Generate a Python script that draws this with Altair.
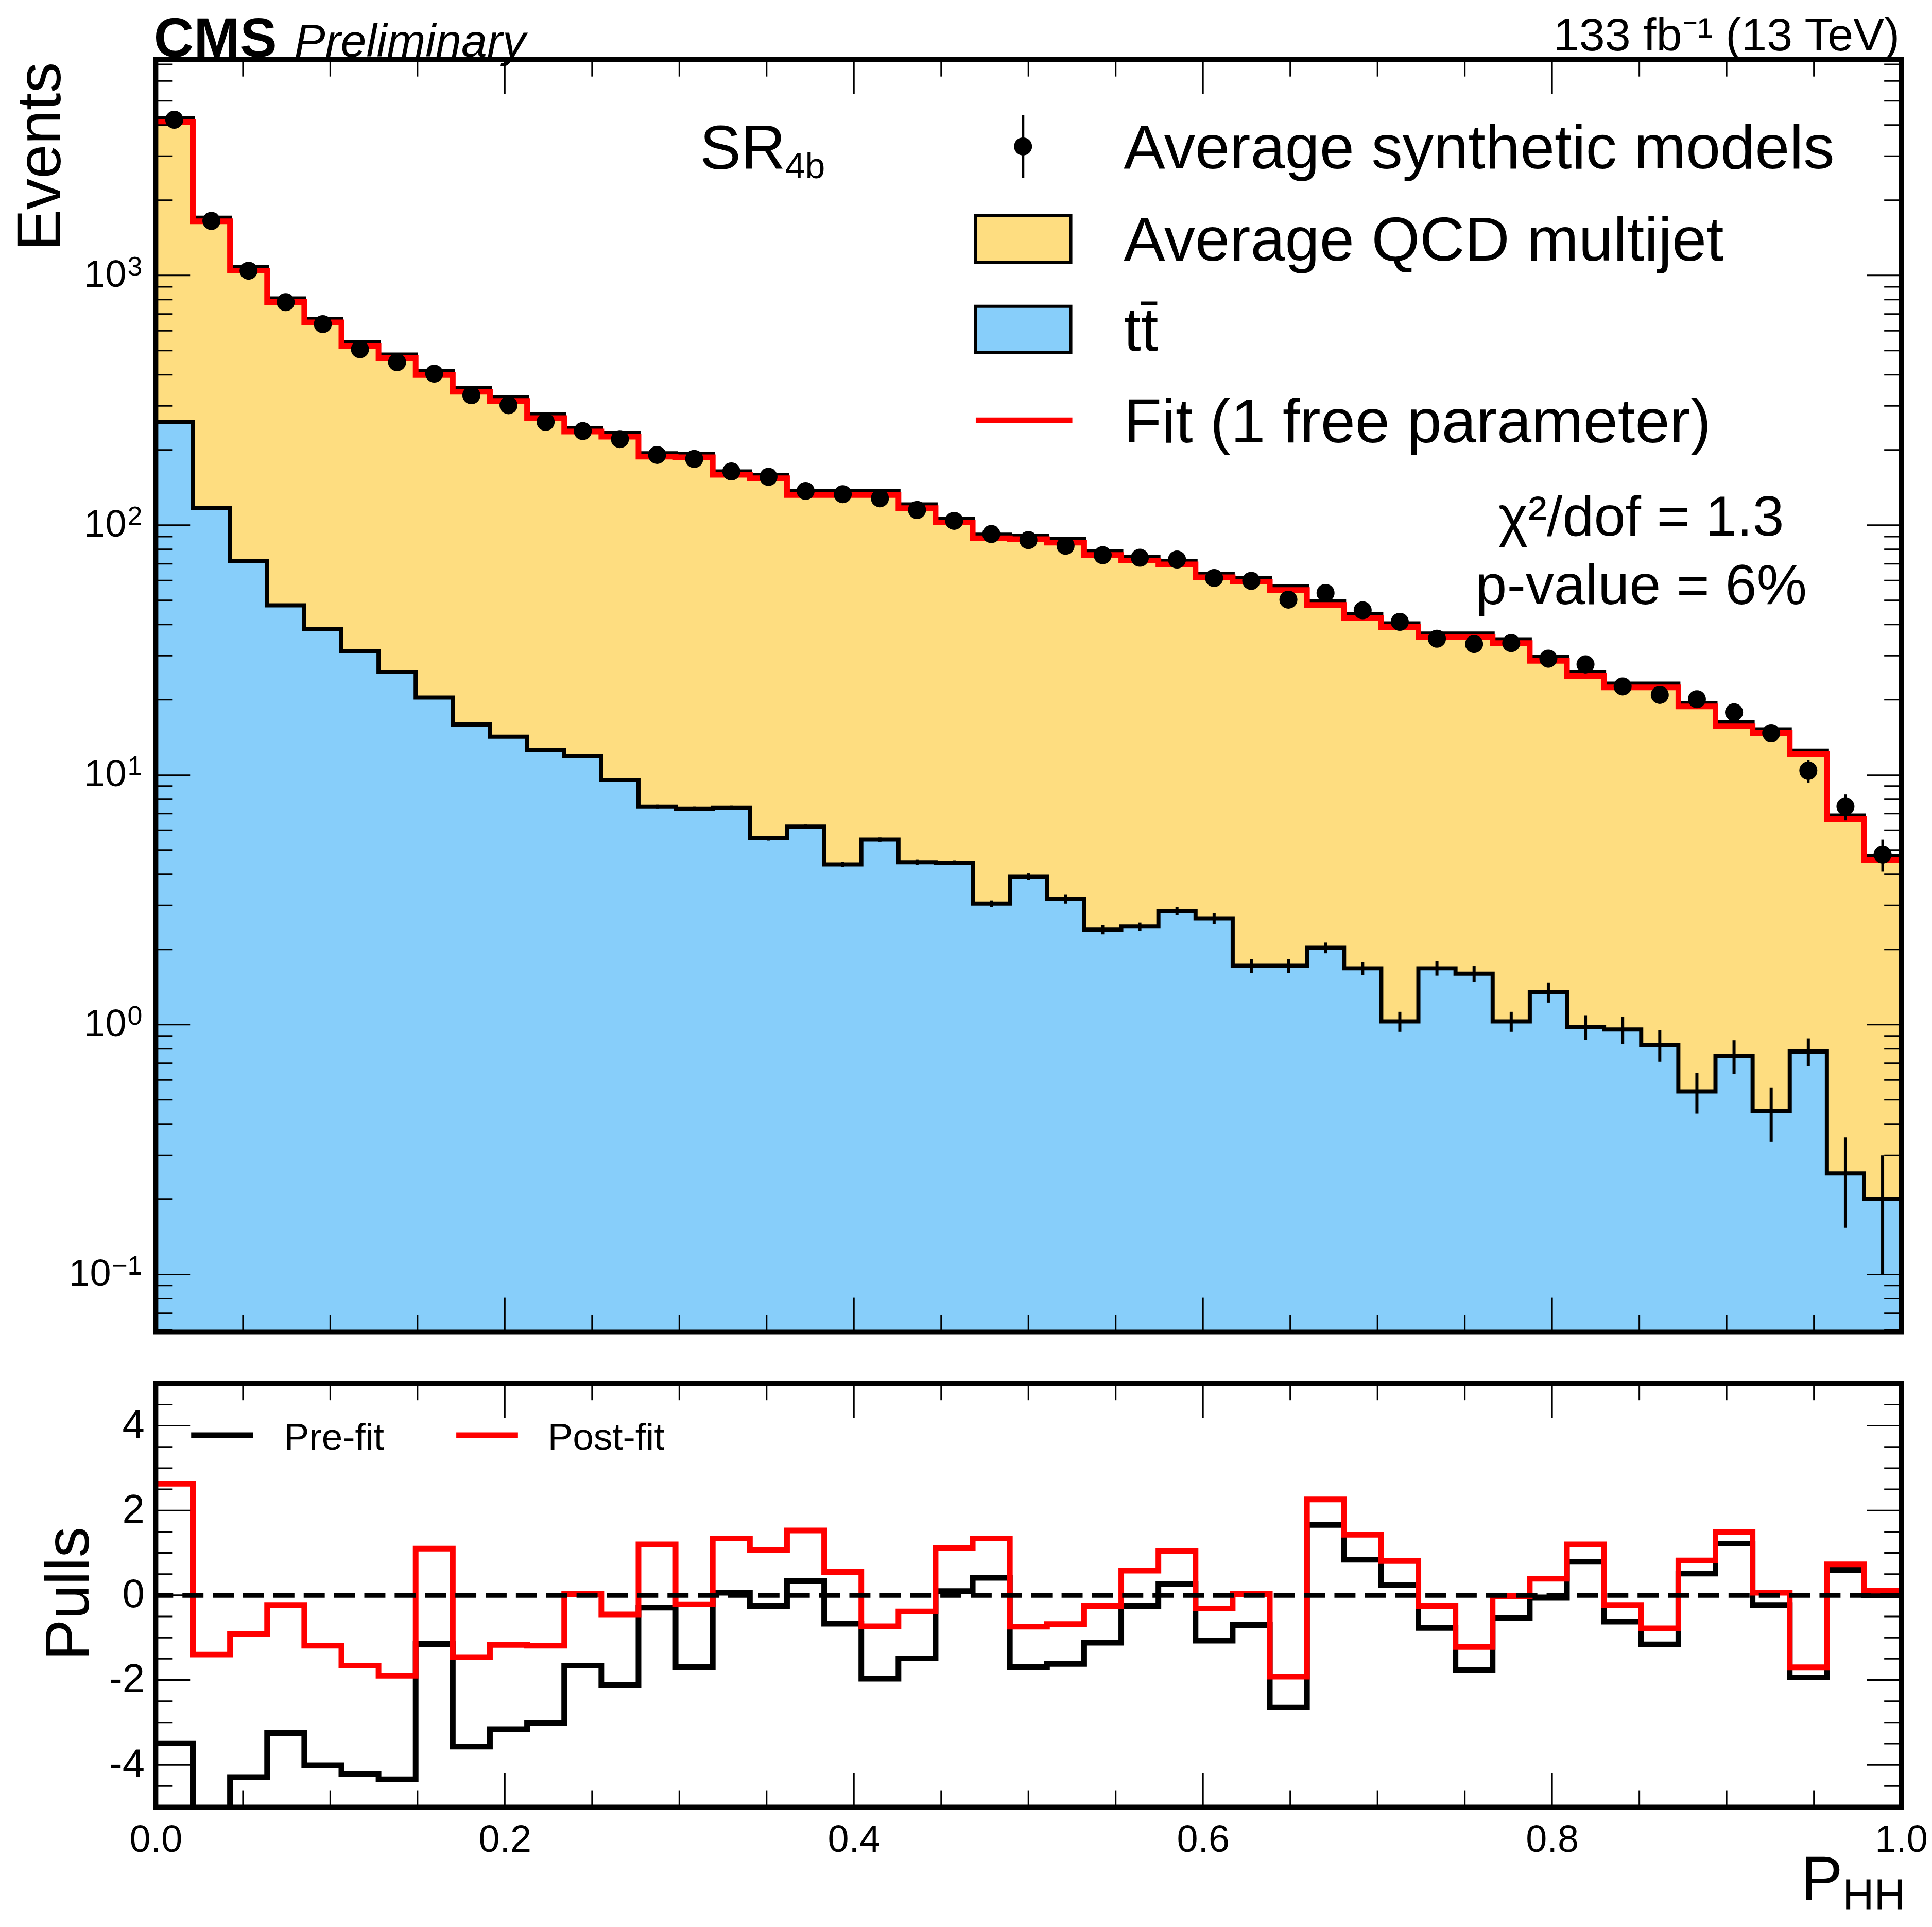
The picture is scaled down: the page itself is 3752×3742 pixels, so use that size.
import altair as alt
import pandas as pd

FONT = "Liberation Sans"
YELLOW = "#FEDD80"
BLUE = "#87CEFA"

# plot areas in px: upper = Events (log), lower = pulls
W = 3397
H_TOP = 2476
H_BOT = 825
MAJOR = 67
MINOR = 33
Y_MIN = 0.0588
Y_MAX = 7310

n_bins = 47
bin_edges = [i / n_bins for i in range(n_bins + 1)]
bin_centers = [(i + 0.5) / n_bins for i in range(n_bins)]

synthetic = [4200, 1652, 1044, 781, 638, 506, 449, 404, 331, 302, 259, 238, 221, 191, 184, 164,
             156, 137, 133, 128, 115, 104, 92.1, 87.1, 82.7, 75.8, 74.0, 72.8, 61.4, 59.8, 50.3,
             53.5, 45.6, 41.0, 35.1, 33.4, 33.7, 29.2, 27.7, 22.6, 20.9, 20.1, 17.8, 14.7, 10.4,
             7.47, 4.80]
synthetic_err = [40, 25, 18, 15, 13, 11, 10, 9.5, 8.5, 8.0, 7.5, 7.0, 6.8, 6.2, 6.0, 5.7, 5.5,
                 5.1, 5.0, 4.9, 4.6, 4.4, 4.1, 4.0, 3.9, 3.7, 3.6, 3.6, 3.3, 3.3, 3.0, 3.1, 2.9,
                 2.7, 2.5, 2.4, 2.4, 2.3, 2.2, 1.3, 1.2, 1.2, 1.1, 1.0, 1.1, 0.9, 0.7]
qcd_plus_tt = [4260, 1702, 1081, 809, 670, 539, 482, 413, 354, 325, 277, 245, 234, 194, 193, 164,
               159, 137, 137, 137, 121, 106, 91.6, 90.8, 88.0, 78.5, 74.6, 72.0, 63.9, 61.4, 56.9,
               49.5, 44.0, 40.4, 36.8, 36.8, 34.9, 29.6, 25.8, 23.2, 23.2, 19.4, 16.2, 15.2, 12.5,
               6.88, 4.73]
fit_total = [4119, 1646, 1045, 782, 648, 521, 466, 399, 342, 314, 268, 237, 226, 188, 187, 159,
             154, 132, 132, 132, 117, 102.5, 88.6, 87.8, 85.1, 75.9, 72.1, 69.6, 61.8, 59.4, 55.0,
             47.9, 42.5, 39.1, 35.6, 35.6, 33.7, 28.6, 24.9, 22.4, 22.4, 18.8, 15.7, 14.7, 12.1,
             6.65, 4.57]
ttbar = [259, 117, 71.6, 47.7, 38.3, 31.3, 25.8, 20.4, 15.9, 14.2, 12.6, 11.9, 9.57, 7.45, 7.31,
         7.38, 5.57, 6.20, 4.38, 5.50, 4.47, 4.45, 3.05, 3.91, 3.18, 2.40, 2.47, 2.85, 2.66, 1.72,
         1.72, 2.03, 1.68, 1.03, 1.68, 1.60, 1.03, 1.35, 0.98, 0.955, 0.83, 0.54, 0.75, 0.45, 0.78,
         0.254, 0.20]
ttbar_err = [1.0, 0.7, 0.5, 0.4, 0.35, 0.3, 0.28, 0.25, 0.22, 0.2, 0.19, 0.18, 0.15, 0.14, 0.14,
             0.14, 0.12, 0.12, 0.10, 0.11, 0.10, 0.10, 0.09, 0.12, 0.13, 0.10, 0.09, 0.10, 0.14,
             0.11, 0.11, 0.10, 0.10, 0.095, 0.11, 0.115, 0.095, 0.125, 0.11, 0.12, 0.12, 0.10,
             0.115, 0.11, 0.10, 0.10, 0.10]
pull_pre = [-3.49, -5.6, -4.29, -3.25, -4.01, -4.21, -4.34, -1.15, -3.57, -3.16, -3.02, -1.66,
            -2.12, -0.29, -1.69, 0.06, -0.25, 0.34, -0.67, -1.97, -1.49, 0.10, 0.41, -1.69, -1.62,
            -1.12, -0.25, 0.26, -1.07, -0.70, -2.64, 1.66, 0.84, 0.24, -0.77, -1.77, -0.53, -0.05,
            0.79, -0.62, -1.16, 0.51, 1.22, -0.23, -1.94, 0.60, 0.0]
pull_post = [2.63, -1.40, -0.92, -0.23, -1.19, -1.66, -1.90, 1.10, -1.46, -1.17, -1.19, 0.03,
             -0.45, 1.20, -0.21, 1.34, 1.07, 1.53, 0.55, -0.73, -0.38, 1.11, 1.34, -0.74, -0.68,
             -0.25, 0.58, 1.05, -0.31, 0.03, -1.92, 2.26, 1.43, 0.81, -0.25, -1.22, -0.02, 0.39,
             1.20, -0.23, -0.78, 0.82, 1.49, 0.06, -1.70, 0.73, 0.11]

x_major = [0.0, 0.2, 0.4, 0.6, 0.8, 1.0]
x_minor = [0.05, 0.1, 0.15, 0.25, 0.3, 0.35, 0.45, 0.5, 0.55, 0.65, 0.7, 0.75, 0.85, 0.9, 0.95]
y_major = [0.1, 1, 10, 100, 1000]
y_major_exp = ["\u22121", "0", "1", "2", "3"]
y_minor = [k * 10.0 ** e for e in range(-2, 4) for k in range(2, 10) if Y_MIN < k * 10.0 ** e < Y_MAX]
pull_major = [-4, -2, 0, 2, 4]
pull_minor = [-4.5, -3.5, -3, -2.5, -1.5, -1, -0.5, 0.5, 1, 1.5, 2.5, 3, 3.5, 4.5]

x_scale = alt.Scale(domain=[0, 1], nice=False, zero=False)
y_scale = alt.Scale(type="log", domain=[Y_MIN, Y_MAX], nice=False)
pull_scale = alt.Scale(domain=[-5, 5], nice=False, zero=False)

x_axis_low = alt.Axis(values=x_major, format=".1f", ticks=False, tickSize=0, domain=False,
                      grid=False, labelFontSize=74, labelPadding=28, labelColor="black",
                      labelFont=FONT, labelFlush=False, labelOverlap=False, title=None)
pull_axis = alt.Axis(values=pull_major, labelExpr="'' + datum.value", ticks=False, tickSize=0,
                     domain=False, grid=False, labelFontSize=78, labelPadding=22,
                     labelColor="black", labelFont=FONT, title=None)

hist = pd.DataFrame({
    "edge": bin_edges,
    "total": qcd_plus_tt + qcd_plus_tt[-1:],
    "tt": ttbar + ttbar[-1:],
    "fit": fit_total + fit_total[-1:],
    "floor": [Y_MIN] * (n_bins + 1),
})
points = pd.DataFrame({
    "center": bin_centers,
    "data": synthetic,
    "data_lo": [v - e for v, e in zip(synthetic, synthetic_err)],
    "data_hi": [v + e for v, e in zip(synthetic, synthetic_err)],
    "tt_lo": [v - e for v, e in zip(ttbar, ttbar_err)],
    "tt_hi": [v + e for v, e in zip(ttbar, ttbar_err)],
})
pulls = pd.DataFrame({
    "edge": bin_edges,
    "pre": pull_pre + pull_pre[-1:],
    "post": pull_post + pull_post[-1:],
})
one = pd.DataFrame({"k": [0]})


def xq(field, axis=None):
    return alt.X(field, type="quantitative", scale=x_scale, axis=axis)


def yq(field):
    return alt.Y(field, type="quantitative", scale=y_scale, axis=None)


def pq(field):
    return alt.Y(field, type="quantitative", scale=pull_scale, axis=pull_axis)


def x_ticks(values, length, height, axis=None):
    base = alt.Chart(pd.DataFrame({"v": values})).mark_rule(color="black", strokeWidth=3)
    return alt.layer(
        base.encode(x=xq("v", axis), y=alt.value(0), y2=alt.value(length)),
        base.encode(x=xq("v", axis), y=alt.value(height - length), y2=alt.value(height)),
    )


def y_ticks(values, length, yenc):
    base = alt.Chart(pd.DataFrame({"v": values})).mark_rule(color="black", strokeWidth=3)
    return alt.layer(
        base.encode(y=yenc("v"), x=alt.value(0), x2=alt.value(length)),
        base.encode(y=yenc("v"), x=alt.value(W - length), x2=alt.value(W)),
    )


def frame(height):
    return alt.Chart(one).mark_rect(fillOpacity=0, stroke="black", strokeWidth=10).encode(
        x=alt.value(0), x2=alt.value(W), y=alt.value(0), y2=alt.value(height))


def text(s, x, y, size, **kw):
    opts = dict(align="left", baseline="alphabetic", color="black", font=FONT)
    opts.update(kw)
    return alt.Chart(one).mark_text(text=s, fontSize=size, **opts).encode(
        x=alt.value(x), y=alt.value(y))


def anchor(x, y):
    # invisible mark that pins the outer bounds of a panel
    return alt.Chart(one).mark_rule(opacity=0, strokeWidth=1).encode(
        x=alt.value(x), x2=alt.value(x + 10), y=alt.value(y))


def log_labels():
    # "10" plus a raised exponent, placed on the log scale
    layers = []
    for v, e in zip(y_major, y_major_exp):
        df = pd.DataFrame({"v": [v]})
        right = -57 if len(e) == 1 else -87
        layers.append(alt.Chart(df).mark_text(text="10", fontSize=74, font=FONT, color="black",
                                              align="right", baseline="middle").encode(
            x=alt.value(right), y=yq("v")))
        layers.append(alt.Chart(df).mark_text(text=e, fontSize=52, font=FONT, color="black",
                                              align="right", baseline="alphabetic").encode(
            x=alt.value(-26), y=yq("v")))
    return alt.layer(*layers)


# ---- upper panel ----
tt_fill = alt.Chart(hist).mark_area(interpolate="step-after", color=BLUE, opacity=1).encode(
    x=xq("edge"), y=yq("tt"), y2=alt.Y2("floor"))
qcd_fill = alt.Chart(hist).mark_area(interpolate="step-after", color=YELLOW, opacity=1).encode(
    x=xq("edge"), y=yq("total"), y2=alt.Y2("tt"))
tt_err = alt.Chart(points).mark_rule(color="black", strokeWidth=6).encode(
    x=xq("center"), y=yq("tt_lo"), y2=alt.Y2("tt_hi"))
tt_line = alt.Chart(hist).mark_line(interpolate="step-after", color="black", strokeWidth=8).encode(
    x=xq("edge"), y=yq("tt"))
total_line = alt.Chart(hist).mark_line(interpolate="step-after", color="black", strokeWidth=8).encode(
    x=xq("edge"), y=yq("total"))
fit_line = alt.Chart(hist).mark_line(interpolate="step-after", color="#FF0000", strokeWidth=11).encode(
    x=xq("edge"), y=yq("fit"))
data_err = alt.Chart(points).mark_rule(color="black", strokeWidth=5).encode(
    x=xq("center"), y=yq("data_lo"), y2=alt.Y2("data_hi"))
data_pts = alt.Chart(points).mark_circle(color="black", size=1230, opacity=1).encode(
    x=xq("center"), y=yq("data"))

legend_top = alt.layer(
    alt.Chart(one).mark_rule(color="black", strokeWidth=5).encode(
        x=alt.value(1688), y=alt.value(108), y2=alt.value(230)),
    alt.Chart(one).mark_circle(color="black", size=1230, opacity=1).encode(
        x=alt.value(1688), y=alt.value(169)),
    alt.Chart(one).mark_rect(fill=YELLOW, stroke="black", strokeWidth=6).encode(
        x=alt.value(1596), x2=alt.value(1781), y=alt.value(303), y2=alt.value(394)),
    alt.Chart(one).mark_rect(fill=BLUE, stroke="black", strokeWidth=6).encode(
        x=alt.value(1596), x2=alt.value(1781), y=alt.value(480), y2=alt.value(570)),
    alt.Chart(one).mark_rule(color="#FF0000", strokeWidth=11).encode(
        x=alt.value(1596), x2=alt.value(1784), y=alt.value(702)),
    text("Average synthetic models", 1884, 212, 121),
    text("Average QCD multijet", 1884, 391, 121),
    text("tt\u0304", 1884, 566, 121),
    text("Fit (1 free parameter)", 1884, 745, 121),
)

labels_top = alt.layer(
    text("CMS", -4, -6, 108, fontWeight="bold"),
    text("Preliminary", 270, -6, 90, fontStyle="italic"),
    text("133 fb\u207b\u00b9 (13 TeV)", 3394, -18, 90, align="right"),
    text("Events", -186, 5, 120, angle=270, align="right"),
    text("SR", 1059, 213, 120),
    text("4b", 1225, 231, 70),
    text("\u03c7\u00b2/dof = 1.3", 2891, 926, 110, align="center"),
    text("p-value = 6%", 2891, 1060, 110, align="center"),
)

upper = alt.layer(
    tt_fill, qcd_fill, tt_err, tt_line, total_line, fit_line, data_err, data_pts,
    x_ticks(x_major, MAJOR, H_TOP), x_ticks(x_minor, MINOR, H_TOP),
    y_ticks(y_major, MAJOR, yq), y_ticks(y_minor, MINOR, yq),
    frame(H_TOP), log_labels(), legend_top, labels_top,
    anchor(-295, -104), anchor(0, H_TOP + 10),
).properties(width=W, height=H_TOP)

# ---- lower panel ----
pre_line = alt.Chart(pulls).mark_line(interpolate="step-after", color="black", strokeWidth=11,
                                      clip=True).encode(x=xq("edge", x_axis_low), y=pq("pre"))
post_line = alt.Chart(pulls).mark_line(interpolate="step-after", color="#FF0000", strokeWidth=11,
                                       clip=True).encode(x=xq("edge", x_axis_low), y=pq("post"))
zero_line = alt.Chart(pd.DataFrame({"zero": [0]})).mark_rule(
    color="black", strokeWidth=10, strokeDash=[41, 18]).encode(y=pq("zero"))

labels_bot = alt.layer(
    alt.Chart(one).mark_rule(color="black", strokeWidth=11).encode(
        x=alt.value(69), x2=alt.value(190), y=alt.value(101)),
    text("Pre-fit", 250, 129, 73),
    alt.Chart(one).mark_rule(color="#FF0000", strokeWidth=11).encode(
        x=alt.value(585), x2=alt.value(705), y=alt.value(101)),
    text("Post-fit", 763, 129, 73),
    text("Pulls", -131, 409, 120, angle=270, align="center"),
    text("P", 3202, 1006, 122),
    text("HH", 3283, 1024, 85),
)

lower = alt.layer(
    pre_line, post_line, zero_line,
    x_ticks(x_major, MAJOR, H_BOT, x_axis_low), x_ticks(x_minor, MINOR, H_BOT, x_axis_low),
    y_ticks(pull_major, MAJOR, pq), y_ticks(pull_minor, MINOR, pq),
    frame(H_BOT), labels_bot,
    anchor(-295, 400), anchor(0, -10),
).properties(width=W, height=H_BOT)

chart = alt.vconcat(upper, lower, spacing=80).properties(padding=0).configure(
    font=FONT).configure_view(strokeWidth=0)

chart.save("out.html", embed_options={"renderer": "svg", "actions": False})
